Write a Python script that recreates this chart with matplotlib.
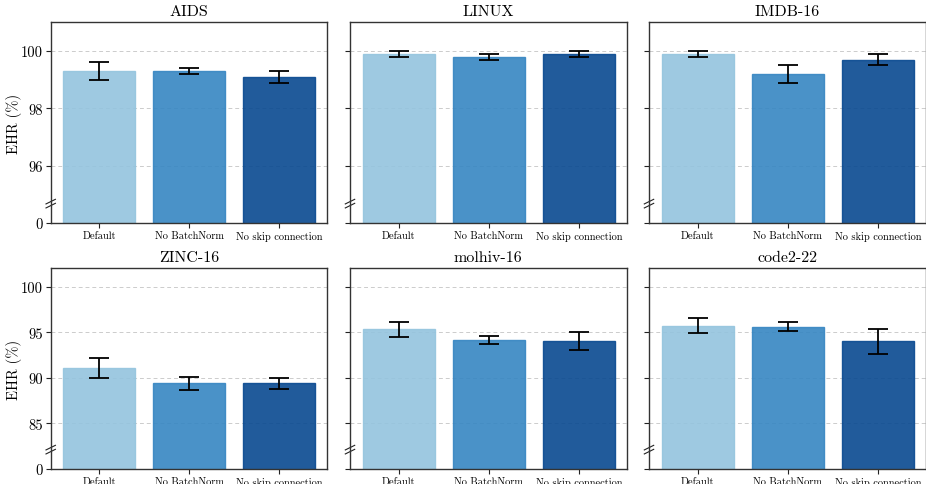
import matplotlib
matplotlib.use("Agg")
import matplotlib.pyplot as plt
import numpy as np

plt.rcParams["font.family"] = ["cmr10", "DejaVu Serif"]
plt.rcParams["mathtext.fontset"] = "cm"
plt.rcParams["axes.formatter.use_mathtext"] = True

variants = ["Default", "No BatchNorm", "No skip connection"]
datasets = ["AIDS", "LINUX", "IMDB-16", "ZINC-16", "molhiv-16", "code2-22"]

ehr_mean = {
    "AIDS":      [99.3, 99.3, 99.1],
    "LINUX":     [99.9, 99.8, 99.9],
    "IMDB-16":   [99.9, 99.2, 99.7],
    "ZINC-16":   [91.1, 89.4, 89.4],
    "molhiv-16": [95.3, 94.1, 94.0],
    "code2-22":  [95.7, 95.6, 94.0],
}
ehr_std = {
    "AIDS":      [0.3, 0.1, 0.2],
    "LINUX":     [0.1, 0.1, 0.1],
    "IMDB-16":   [0.1, 0.3, 0.2],
    "ZINC-16":   [1.1, 0.7, 0.6],
    "molhiv-16": [0.8, 0.45, 1.0],
    "code2-22":  [0.8, 0.5, 1.4],
}

# broken-axis settings per row: (axis floor shown as "0", upper limit, tick values)
row_axes = [
    (94, 101, [96, 98, 100]),
    (80, 102, [85, 90, 95, 100]),
]

colors = ["#94c4de", "#3686c2", "#094990"]

fig = plt.figure(figsize=(9.26, 4.85), dpi=100)
W, H = 926, 485
lefts = [50.7, 350.0, 649.0]
ax_w = 276.5
tops = [23.3, 269.3]
ax_h = 200.7

x = np.arange(len(variants))
for i, name in enumerate(datasets):
    r, c = divmod(i, 3)
    lo, hi, ticks = row_axes[r]
    ax = fig.add_axes([lefts[c] / W, 1 - (tops[r] + ax_h) / H, ax_w / W, ax_h / H])
    ax.set_axisbelow(True)
    ax.yaxis.grid(True, linestyle=(0, (4, 3)), color="#cccccc", linewidth=0.7)
    ax.bar(x, ehr_mean[name], width=0.8, color=colors, alpha=0.9,
           edgecolor=colors, linewidth=1.0)
    ax.errorbar(x, ehr_mean[name], yerr=ehr_std[name], fmt="none",
                ecolor="black", elinewidth=1.3, capsize=7, capthick=1.3)
    ax.set_ylim(lo, hi)
    ax.set_xlim(-0.54, 2.53)
    ax.set_yticks([lo] + ticks)
    ax.set_xticks(x)
    ax.set_xticklabels(variants, fontsize=7.5)
    if c == 0:
        ax.set_yticklabels(["0"] + [str(t) for t in ticks], fontsize=10.5)
        ax.set_ylabel("EHR (%)", fontsize=10.5)
        ax.yaxis.set_label_coords(-0.105, 0.5)
    else:
        ax.set_yticklabels([])
    ax.set_title(name, fontsize=11.5, pad=5)
    for s in ax.spines.values():
        s.set_color("#333333")
        s.set_linewidth(1.0)
    ax.tick_params(axis="both", length=3.5, width=0.8, color="#222222", pad=2)
    # break marks on the left spine
    kw = dict(transform=ax.transAxes, color="#222222", linewidth=0.8, clip_on=False)
    ax.plot([-0.017, 0.017], [0.075, 0.098], **kw)
    ax.plot([-0.017, 0.017], [0.095, 0.118], **kw)

fig.savefig("out.png", dpi=100)
